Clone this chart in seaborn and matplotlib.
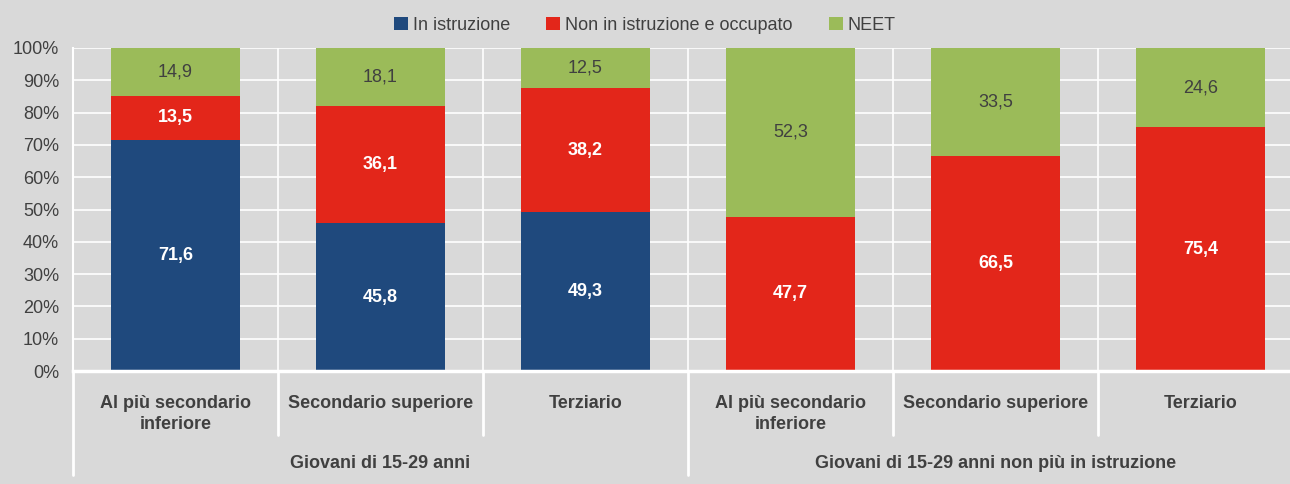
import numpy as np
import pandas as pd
import matplotlib
matplotlib.use('Agg')
import matplotlib.pyplot as plt
import matplotlib.transforms as mtransforms
from matplotlib import font_manager
import seaborn as sns

# Data
categories = ['Al più secondario\ninferiore', 'Secondario superiore', 'Terziario',
              'Al più secondario\ninferiore', 'Secondario superiore', 'Terziario']
groups = ['Giovani di 15-29 anni', 'Giovani di 15-29 anni non più in istruzione']
series_names = ['In istruzione', 'Non in istruzione e occupato', 'NEET']
in_istruzione = [71.6, 45.8, 49.3, 0, 0, 0]
occupato = [13.5, 36.1, 38.2, 47.7, 66.5, 75.4]
neet = [14.9, 18.1, 12.5, 52.3, 33.5, 24.6]

colors = ['#1f497d', '#e3261a', '#9bbb59']
label_colors = ['white', 'white', '#404040']
label_weights = ['bold', 'bold', 'normal']
bg = '#d9d9d9'
txt = '#404040'

sns.set_style('white')
names = {f.name for f in font_manager.fontManager.ttflist}
narrow = 'Liberation Sans Narrow' if 'Liberation Sans Narrow' in names else 'Liberation Sans'
plt.rcParams['font.family'] = [narrow, 'DejaVu Sans']
fs = 13

fig = plt.figure(figsize=(12.9, 4.84), dpi=100, facecolor=bg)
ax = fig.add_axes([73 / 1290, 1 - 371 / 484, 1230 / 1290, 323 / 484])
ax.set_facecolor(bg)

df = pd.DataFrame({'pos': range(len(categories)), 'a': in_istruzione,
                   'b': occupato, 'c': neet})
bottom = np.zeros(len(categories))
for name, col, color, lc, lw in zip(series_names, ['a', 'b', 'c'], colors,
                                    label_colors, label_weights):
    sns.barplot(data=df, x='pos', y=col, color=color, bottom=bottom, width=0.63,
                saturation=1, ax=ax, label=name, zorder=3, linewidth=0)
    for i, v in enumerate(df[col]):
        if v > 0:
            ax.text(i, bottom[i] + v / 2, f'{v:.1f}'.replace('.', ','), ha='center',
                    va='center', color=lc, fontsize=fs, fontweight=lw, zorder=4)
    bottom = bottom + df[col].values

handles, labels = ax.get_legend_handles_labels()
if ax.get_legend() is not None:
    ax.get_legend().remove()

ax.set_xlim(-0.5, 5.5)
ax.set_ylim(0, 100)
ax.set_yticks(range(0, 101, 10))
ax.set_yticklabels([f'{t}%' for t in range(0, 101, 10)], fontsize=fs, color=txt)
ax.set_xticks(range(len(categories)))
ax.set_xticklabels(categories, fontsize=fs, fontweight='bold', color=txt,
                   linespacing=1.3)
ax.tick_params(axis='x', length=0, pad=17)
ax.tick_params(axis='y', length=6, width=1.5, color='white', pad=4)
ax.set_xlabel('')
ax.set_ylabel('')

ax.yaxis.grid(True, color='white', lw=1.2, zorder=0)
for b in np.arange(-0.5, 6, 1):
    ax.axvline(b, color='white', lw=1.2, zorder=0)

for s in ['top', 'right']:
    ax.spines[s].set_visible(False)
ax.spines['left'].set_color('white')
ax.spines['left'].set_linewidth(1.5)
ax.spines['bottom'].set_color('white')
ax.spines['bottom'].set_linewidth(2.5)
ax.spines['bottom'].set_zorder(5)

trans = mtransforms.blended_transform_factory(ax.transData, ax.transAxes)
for b in [0.5, 1.5, 3.5, 4.5, 5.5]:
    ax.plot([b, b], [0, -0.198], color='white', lw=2, transform=trans, clip_on=False)
for b in [-0.5, 2.5]:
    ax.plot([b, b], [0, -0.322], color='white', lw=2, transform=trans, clip_on=False)
for x, g in zip([1, 4], groups):
    ax.text(x, -0.285, g, transform=trans, ha='center', va='center', fontsize=fs,
            fontweight='bold', color=txt)

leg = fig.legend(handles, labels, loc='center', bbox_to_anchor=(0.5, 1 - 25 / 484),
                 ncol=3, frameon=False, fontsize=fs, handlelength=0.75,
                 handleheight=0.75, handletextpad=0.3, columnspacing=2.0)
for t in leg.get_texts():
    t.set_color(txt)

fig.savefig('out.png', dpi=100, facecolor=bg)
